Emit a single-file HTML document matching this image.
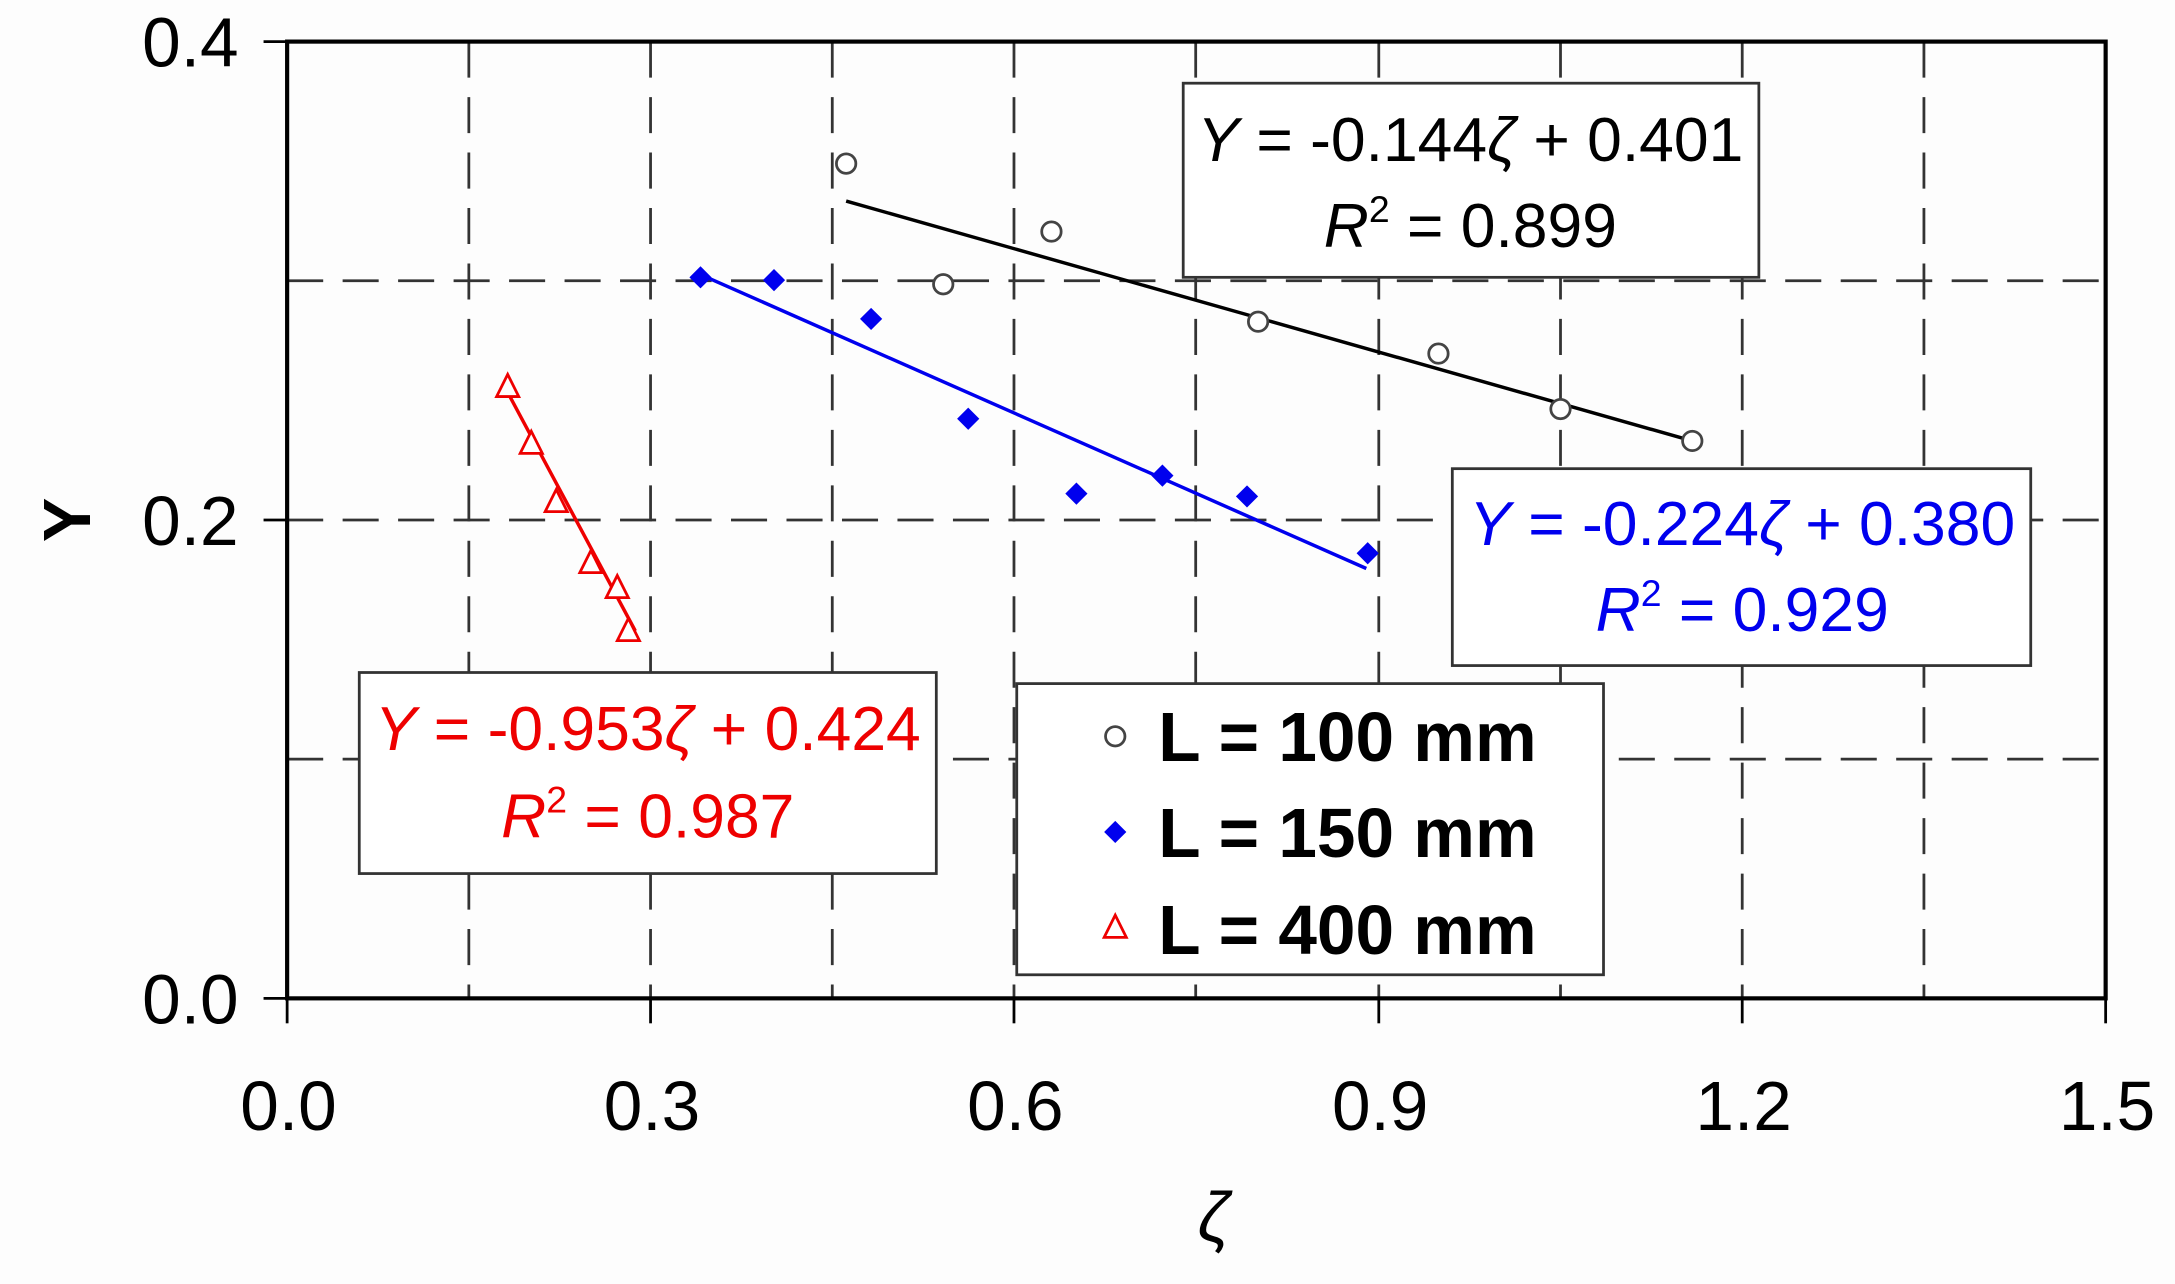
<!DOCTYPE html>
<html><head><meta charset="utf-8"><style>
html,body{margin:0;padding:0;background:#fff;}
svg{display:block;}
text{font-family:"Liberation Sans",Arial,sans-serif;}
</style></head><body>
<svg width="2175" height="1284" viewBox="0 0 1568 926" preserveAspectRatio="none" xmlns="http://www.w3.org/2000/svg">
<rect width="1568" height="926" fill="#fdfdfd"/>
<g stroke="#333" stroke-width="2" stroke-dasharray="26,14" fill="none">
<line x1="338" y1="30" x2="338" y2="720"/><line x1="469" y1="30" x2="469" y2="720"/>
<line x1="600" y1="30" x2="600" y2="720"/><line x1="731" y1="30" x2="731" y2="720"/>
<line x1="862" y1="30" x2="862" y2="720"/><line x1="994" y1="30" x2="994" y2="720"/>
<line x1="1125" y1="30" x2="1125" y2="720"/><line x1="1256" y1="30" x2="1256" y2="720"/>
<line x1="1387" y1="30" x2="1387" y2="720"/>
<line x1="207" y1="547.5" x2="1518" y2="547.5"/><line x1="207" y1="375" x2="1518" y2="375"/>
<line x1="207" y1="202.5" x2="1518" y2="202.5"/>
</g>
<rect x="207" y="30" width="1311" height="690" fill="none" stroke="#000" stroke-width="3"/>
<g stroke="#000" stroke-width="2">
<line x1="190" y1="30" x2="207" y2="30"/><line x1="190" y1="375" x2="207" y2="375"/><line x1="190" y1="720" x2="207" y2="720"/>
<line x1="207" y1="720" x2="207" y2="738"/><line x1="469" y1="720" x2="469" y2="738"/><line x1="731" y1="720" x2="731" y2="738"/>
<line x1="994" y1="720" x2="994" y2="738"/><line x1="1256" y1="720" x2="1256" y2="738"/><line x1="1518" y1="720" x2="1518" y2="738"/>
</g>
<g font-size="50" fill="#000" text-anchor="end">
<text x="172" y="48">0.4</text><text x="172" y="393">0.2</text><text x="172" y="738">0.0</text>
</g>
<g font-size="50" fill="#000" text-anchor="middle">
<text x="208" y="815">0.0</text><text x="470" y="815">0.3</text><text x="732" y="815">0.6</text>
<text x="995" y="815">0.9</text><text x="1257" y="815">1.2</text><text x="1519" y="815">1.5</text>
</g>
<text x="48" y="375" font-size="48" font-weight="bold" text-anchor="middle" transform="rotate(-90 48 375)" dy="17">Y</text>
<text x="875" y="895" font-size="50" font-style="italic" text-anchor="middle" font-family="DejaVu Serif, serif">ζ</text>
<line x1="610" y1="145" x2="1220" y2="318" stroke="#000" stroke-width="2.5"/>
<line x1="505" y1="198" x2="985" y2="410" stroke="#0000ee" stroke-width="2.5"/>
<line x1="366" y1="283" x2="458" y2="455" stroke="#e00" stroke-width="2.5"/>
<g fill="#fff" stroke="#444" stroke-width="2">
<circle cx="610" cy="118" r="7"/><circle cx="758" cy="167" r="7"/><circle cx="680" cy="205" r="7"/>
<circle cx="907" cy="232" r="7"/><circle cx="1037" cy="255" r="7"/><circle cx="1125" cy="295" r="7"/><circle cx="1220" cy="318" r="7"/>
</g>
<g fill="#0000ee">
<path d="M505 192l8 8-8 8-8-8z"/><path d="M558 194l8 8-8 8-8-8z"/><path d="M628 222l8 8-8 8-8-8z"/>
<path d="M698 294l8 8-8 8-8-8z"/><path d="M776 348l8 8-8 8-8-8z"/><path d="M838 335l8 8-8 8-8-8z"/>
<path d="M899 350l8 8-8 8-8-8z"/><path d="M986 391l8 8-8 8-8-8z"/>
</g>
<g fill="#fff" stroke="#e00" stroke-width="2">
<path d="M366 270l8 16h-16z"/><path d="M383 311l8 16h-16z"/><path d="M401 353l8 16h-16z"/>
<path d="M426 397l8 16h-16z"/><path d="M445 415l8 16h-16z"/><path d="M453 446l8 16h-16z"/>
</g>
<rect x="853" y="60" width="415" height="140" fill="#fff" stroke="#333" stroke-width="2"/>
<text x="1060" y="116" font-size="45" text-anchor="middle" fill="#000"><tspan font-style="italic">Y</tspan> = -0.144<tspan font-style="italic">ζ</tspan> + 0.401</text>
<text x="1060" y="178" font-size="45" text-anchor="middle" fill="#000"><tspan font-style="italic">R</tspan><tspan font-size="27" dy="-18">2</tspan><tspan dy="18"> = 0.899</tspan></text>
<rect x="1047" y="338" width="417" height="142" fill="#fff" stroke="#333" stroke-width="2"/>
<text x="1256" y="393" font-size="45" text-anchor="middle" fill="#0000ee"><tspan font-style="italic">Y</tspan> = -0.224<tspan font-style="italic">ζ</tspan> + 0.380</text>
<text x="1256" y="455" font-size="45" text-anchor="middle" fill="#0000ee"><tspan font-style="italic">R</tspan><tspan font-size="27" dy="-18">2</tspan><tspan dy="18"> = 0.929</tspan></text>
<rect x="259" y="485" width="416" height="145" fill="#fff" stroke="#333" stroke-width="2"/>
<text x="467" y="541" font-size="45" text-anchor="middle" fill="#e00"><tspan font-style="italic">Y</tspan> = -0.953<tspan font-style="italic">ζ</tspan> + 0.424</text>
<text x="467" y="604" font-size="45" text-anchor="middle" fill="#e00"><tspan font-style="italic">R</tspan><tspan font-size="27" dy="-18">2</tspan><tspan dy="18"> = 0.987</tspan></text>
<rect x="733" y="493" width="423" height="210" fill="#fff" stroke="#333" stroke-width="2"/>
<circle cx="804" cy="531" r="7" fill="#fff" stroke="#444" stroke-width="2"/>
<path d="M804 592l8 8-8 8-8-8z" fill="#0000ee"/>
<path d="M804 660l8 16h-16z" fill="#fff" stroke="#e00" stroke-width="2"/>
<g font-size="50" font-weight="bold" fill="#000">
<text x="835" y="549">L = 100 mm</text><text x="835" y="618">L = 150 mm</text><text x="835" y="688">L = 400 mm</text>
</g>
</svg>
</body></html>
